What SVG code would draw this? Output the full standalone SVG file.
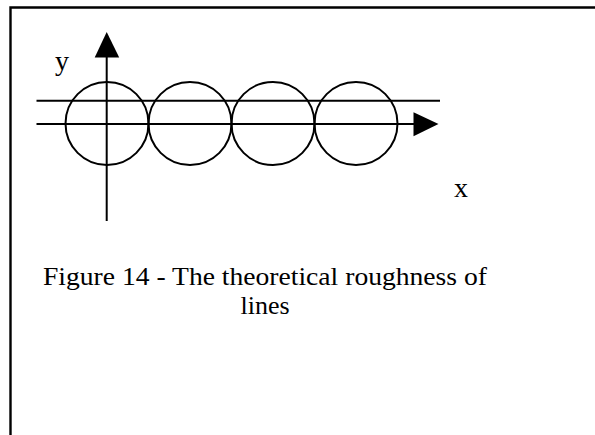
<svg xmlns="http://www.w3.org/2000/svg" width="595" height="435" viewBox="0 0 595 435">
<style>
.ln{stroke:#000;stroke-width:2;fill:none}
.lbl{fill:#000}
</style>
<rect width="595" height="435" fill="#fff"/>
<g id="frame"><path d="M10.5,440 V7.5 H600" fill="none" stroke="#000" stroke-width="2.4"/></g>
<g id="circles">
<circle class="ln" cx="107" cy="123.5" r="41.5"/>
<circle class="ln" cx="190" cy="123.5" r="41.5"/>
<circle class="ln" cx="273" cy="123.5" r="41.5"/>
<circle class="ln" cx="356" cy="123.5" r="41.5"/>
</g>
<g id="connectors">
<line class="ln" x1="106.7" y1="57" x2="106.7" y2="221"/>
<polygon points="106.7,32 94.7,57.5 119.2,57.5" fill="#000"/>
<line class="ln" x1="36.5" y1="100.8" x2="440" y2="100.8"/>
<line class="ln" x1="36.5" y1="124" x2="414" y2="124"/>
<polygon points="438.5,124 413.5,112.3 413.5,136.3" fill="#000"/>
</g>
<g id="labels" font-family="Liberation Serif, Tinos, Times New Roman, serif">
<text class="lbl" x="55" y="70" font-size="28">y</text>
<text class="lbl" x="454" y="197" font-size="28">x</text>
<text class="lbl" x="265" y="285" font-size="26" text-anchor="middle" textLength="444" lengthAdjust="spacingAndGlyphs">Figure 14 - The theoretical roughness of</text>
<text class="lbl" x="265" y="314" font-size="26" text-anchor="middle">lines</text>
</g>
</svg>
